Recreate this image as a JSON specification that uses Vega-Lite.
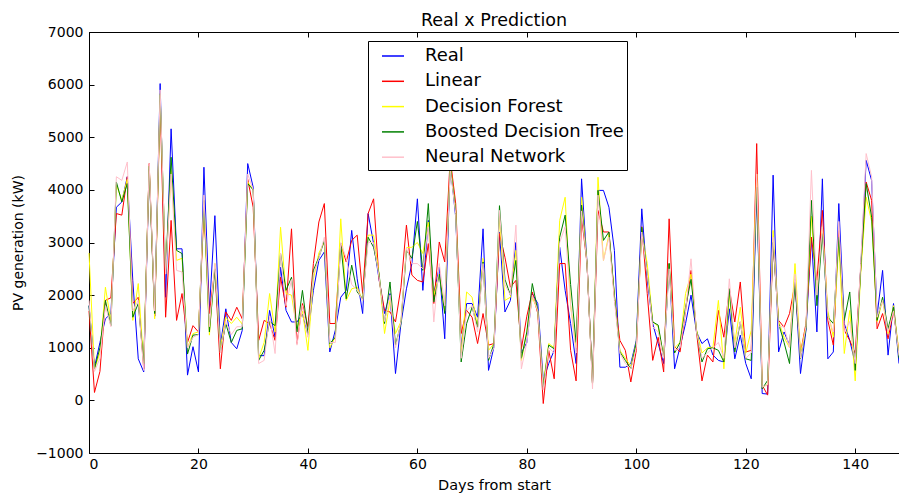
{
"$schema": "https://vega.github.io/schema/vega-lite/v6.json",
"width": 810, "height": 421,
"autosize": "none",
"padding": {"left": 89, "top": 32, "right": 0, "bottom": 45},
"title": {"text": "Real x Prediction", "fontSize": 17.5, "fontWeight": "normal", "font": "DejaVu Sans", "anchor": "middle", "offset": -4, "color": "black"},
"config": {
  "view": {"stroke": "black", "strokeWidth": 1},
  "font": "DejaVu Sans",
  "axis": {"grid": false, "domainColor": "black", "tickColor": "black", "tickSize": -5, "labelColor": "black", "titleColor": "black", "labelFont": "DejaVu Sans", "titleFont": "DejaVu Sans", "labelFontSize": 14, "titleFontSize": 14, "titleFontWeight": "normal", "labelPadding": 11}
},
"data": {"values": [
{"day":0,"real":1800,"linear":1700,"forest":2800,"boosted":1800,"neural":1900},
{"day":1,"real":630,"linear":150,"forest":600,"boosted":600,"neural":550},
{"day":2,"real":1100,"linear":550,"forest":900,"boosted":1000,"neural":800},
{"day":3,"real":1550,"linear":1900,"forest":2150,"boosted":1900,"neural":1800},
{"day":4,"real":1650,"linear":1950,"forest":1500,"boosted":1420,"neural":1400},
{"day":5,"real":3670,"linear":3550,"forest":4100,"boosted":4150,"neural":4250},
{"day":6,"real":3770,"linear":3520,"forest":3800,"boosted":3770,"neural":4180},
{"day":7,"real":4250,"linear":4250,"forest":4200,"boosted":4120,"neural":4530},
{"day":8,"real":2280,"linear":1840,"forest":1520,"boosted":1580,"neural":1700},
{"day":9,"real":790,"linear":1960,"forest":2220,"boosted":1840,"neural":1900},
{"day":10,"real":540,"linear":600,"forest":700,"boosted":700,"neural":570},
{"day":11,"real":4400,"linear":4500,"forest":4450,"boosted":4450,"neural":4500},
{"day":12,"real":1600,"linear":1600,"forest":1550,"boosted":1650,"neural":1700},
{"day":13,"real":6020,"linear":5700,"forest":5800,"boosted":5830,"neural":5900},
{"day":14,"real":1960,"linear":1580,"forest":2400,"boosted":2470,"neural":2400},
{"day":15,"real":5160,"linear":3420,"forest":4370,"boosted":4620,"neural":4300},
{"day":16,"real":2880,"linear":1520,"forest":2660,"boosted":2850,"neural":2470},
{"day":17,"real":2880,"linear":2030,"forest":2700,"boosted":2790,"neural":2440},
{"day":18,"real":480,"linear":1100,"forest":1000,"boosted":880,"neural":1000},
{"day":19,"real":1020,"linear":1420,"forest":1270,"boosted":1240,"neural":1200},
{"day":20,"real":540,"linear":1300,"forest":1300,"boosted":1250,"neural":1250},
{"day":21,"real":4430,"linear":3600,"forest":3700,"boosted":3800,"neural":3900},
{"day":22,"real":1710,"linear":1650,"forest":1240,"boosted":1300,"neural":1400},
{"day":23,"real":3510,"linear":2500,"forest":2600,"boosted":2500,"neural":2600},
{"day":24,"real":1050,"linear":600,"forest":1000,"boosted":920,"neural":900},
{"day":25,"real":1740,"linear":1680,"forest":1580,"boosted":1460,"neural":1500},
{"day":26,"real":1100,"linear":1520,"forest":1460,"boosted":1100,"neural":1250},
{"day":27,"real":980,"linear":1770,"forest":1580,"boosted":1330,"neural":1400},
{"day":28,"real":1330,"linear":1550,"forest":1450,"boosted":1360,"neural":1400},
{"day":29,"real":4500,"linear":4200,"forest":4150,"boosted":4120,"neural":4300},
{"day":30,"real":4050,"linear":3670,"forest":4000,"boosted":4000,"neural":4000},
{"day":31,"real":850,"linear":1140,"forest":800,"boosted":760,"neural":700},
{"day":32,"real":850,"linear":1520,"forest":1100,"boosted":950,"neural":760},
{"day":33,"real":1710,"linear":1460,"forest":2030,"boosted":1500,"neural":1600},
{"day":34,"real":1200,"linear":1140,"forest":1300,"boosted":1420,"neural":890},
{"day":35,"real":2530,"linear":2340,"forest":3290,"boosted":2790,"neural":2800},
{"day":36,"real":1710,"linear":1770,"forest":2030,"boosted":2090,"neural":1800},
{"day":37,"real":1490,"linear":3260,"forest":2000,"boosted":2340,"neural":2300},
{"day":38,"real":1490,"linear":1080,"forest":1350,"boosted":1300,"neural":1050},
{"day":39,"real":1640,"linear":1840,"forest":1700,"boosted":2090,"neural":1800},
{"day":40,"real":1250,"linear":1400,"forest":950,"boosted":1280,"neural":1200},
{"day":41,"real":2090,"linear":2600,"forest":2300,"boosted":2470,"neural":2400},
{"day":42,"real":2660,"linear":3390,"forest":2800,"boosted":2720,"neural":2700},
{"day":43,"real":2820,"linear":3740,"forest":3000,"boosted":3040,"neural":3100},
{"day":44,"real":920,"linear":1460,"forest":1000,"boosted":1080,"neural":1100},
{"day":45,"real":1330,"linear":1460,"forest":1200,"boosted":1200,"neural":1100},
{"day":46,"real":1960,"linear":2980,"forest":3450,"boosted":2980,"neural":3000},
{"day":47,"real":2090,"linear":2630,"forest":1900,"boosted":1930,"neural":2700},
{"day":48,"real":3230,"linear":3040,"forest":2120,"boosted":2570,"neural":2200},
{"day":49,"real":2310,"linear":3140,"forest":2150,"boosted":2060,"neural":2100},
{"day":50,"real":1650,"linear":2030,"forest":1900,"boosted":1930,"neural":1900},
{"day":51,"real":3550,"linear":3550,"forest":3140,"boosted":3100,"neural":3000},
{"day":52,"real":2980,"linear":3830,"forest":3140,"boosted":2910,"neural":3000},
{"day":53,"real":2300,"linear":2300,"forest":2400,"boosted":2400,"neural":2350},
{"day":54,"real":1650,"linear":1710,"forest":1270,"boosted":1460,"neural":1500},
{"day":55,"real":2030,"linear":1680,"forest":1900,"boosted":2250,"neural":2000},
{"day":56,"real":510,"linear":1490,"forest":1270,"boosted":1050,"neural":1000},
{"day":57,"real":1460,"linear":2150,"forest":1500,"boosted":1460,"neural":1500},
{"day":58,"real":2120,"linear":3330,"forest":2900,"boosted":2850,"neural":2900},
{"day":59,"real":2600,"linear":2380,"forest":2910,"boosted":2700,"neural":2600},
{"day":60,"real":3830,"linear":2280,"forest":3000,"boosted":3400,"neural":2600},
{"day":61,"real":2090,"linear":2250,"forest":2790,"boosted":2470,"neural":2500},
{"day":62,"real":3420,"linear":2980,"forest":3390,"boosted":3740,"neural":3300},
{"day":63,"real":2030,"linear":1840,"forest":2000,"boosted":1870,"neural":1490},
{"day":64,"real":2530,"linear":3010,"forest":2400,"boosted":2400,"neural":2600},
{"day":65,"real":1170,"linear":2630,"forest":1700,"boosted":1650,"neural":1800},
{"day":66,"real":4500,"linear":4600,"forest":4500,"boosted":4450,"neural":4400},
{"day":67,"real":3480,"linear":3740,"forest":3600,"boosted":3600,"neural":3550},
{"day":68,"real":1020,"linear":1270,"forest":900,"boosted":730,"neural":800},
{"day":69,"real":1840,"linear":1710,"forest":2060,"boosted":1460,"neural":1700},
{"day":70,"real":1840,"linear":1580,"forest":1960,"boosted":1770,"neural":1800},
{"day":71,"real":1580,"linear":1080,"forest":1400,"boosted":1390,"neural":1300},
{"day":72,"real":3260,"linear":1650,"forest":2700,"boosted":2630,"neural":2600},
{"day":73,"real":570,"linear":1050,"forest":950,"boosted":760,"neural":800},
{"day":74,"real":1020,"linear":1080,"forest":1080,"boosted":1080,"neural":1000},
{"day":75,"real":3200,"linear":3170,"forest":3500,"boosted":3700,"neural":3610},
{"day":76,"real":1680,"linear":2720,"forest":1900,"boosted":2300,"neural":2200},
{"day":77,"real":1900,"linear":2150,"forest":1960,"boosted":2000,"neural":2000},
{"day":78,"real":3000,"linear":2280,"forest":2850,"boosted":2660,"neural":3330},
{"day":79,"real":900,"linear":980,"forest":760,"boosted":800,"neural":600},
{"day":80,"real":1100,"linear":1600,"forest":1300,"boosted":1300,"neural":1100},
{"day":81,"real":2030,"linear":2060,"forest":1960,"boosted":2220,"neural":2000},
{"day":82,"real":1840,"linear":1650,"forest":1700,"boosted":1710,"neural":1700},
{"day":83,"real":380,"linear":-60,"forest":300,"boosted":250,"neural":200},
{"day":84,"real":700,"linear":950,"forest":1080,"boosted":1050,"neural":1000},
{"day":85,"real":950,"linear":410,"forest":1000,"boosted":980,"neural":900},
{"day":86,"real":2910,"linear":2600,"forest":3420,"boosted":3100,"neural":3000},
{"day":87,"real":2090,"linear":2600,"forest":3860,"boosted":3520,"neural":3300},
{"day":88,"real":1460,"linear":950,"forest":1800,"boosted":2200,"neural":1800},
{"day":89,"real":700,"linear":370,"forest":1000,"boosted":1100,"neural":900},
{"day":90,"real":4210,"linear":3480,"forest":3860,"boosted":3710,"neural":3600},
{"day":91,"real":2600,"linear":2600,"forest":2600,"boosted":2600,"neural":2600},
{"day":92,"real":320,"linear":320,"forest":300,"boosted":320,"neural":220},
{"day":93,"real":3990,"linear":3610,"forest":4240,"boosted":3990,"neural":3900},
{"day":94,"real":3990,"linear":3200,"forest":2660,"boosted":3040,"neural":2660},
{"day":95,"real":3670,"linear":3200,"forest":3150,"boosted":3200,"neural":3100},
{"day":96,"real":2850,"linear":1960,"forest":2000,"boosted":2000,"neural":1900},
{"day":97,"real":630,"linear":1140,"forest":950,"boosted":920,"neural":900},
{"day":98,"real":630,"linear":950,"forest":800,"boosted":760,"neural":700},
{"day":99,"real":700,"linear":350,"forest":650,"boosted":600,"neural":600},
{"day":100,"real":1140,"linear":950,"forest":1100,"boosted":1100,"neural":1000},
{"day":101,"real":3640,"linear":3300,"forest":3200,"boosted":3290,"neural":3200},
{"day":102,"real":2280,"linear":2030,"forest":2600,"boosted":2400,"neural":2400},
{"day":103,"real":1460,"linear":760,"forest":1500,"boosted":1490,"neural":1400},
{"day":104,"real":1080,"linear":1200,"forest":1400,"boosted":1430,"neural":1300},
{"day":105,"real":700,"linear":540,"forest":820,"boosted":820,"neural":800},
{"day":106,"real":2600,"linear":3450,"forest":2600,"boosted":2600,"neural":2500},
{"day":107,"real":600,"linear":1020,"forest":1000,"boosted":900,"neural":950},
{"day":108,"real":1020,"linear":920,"forest":1100,"boosted":1100,"neural":1000},
{"day":109,"real":1460,"linear":1700,"forest":2030,"boosted":1770,"neural":1700},
{"day":110,"real":2000,"linear":2470,"forest":2400,"boosted":2300,"neural":2690},
{"day":111,"real":1300,"linear":1300,"forest":1350,"boosted":1330,"neural":1300},
{"day":112,"real":1080,"linear":370,"forest":900,"boosted":730,"neural":800},
{"day":113,"real":1170,"linear":860,"forest":1000,"boosted":980,"neural":900},
{"day":114,"real":860,"linear":730,"forest":1010,"boosted":1000,"neural":1000},
{"day":115,"real":760,"linear":1710,"forest":1900,"boosted":950,"neural":1100},
{"day":116,"real":730,"linear":1200,"forest":600,"boosted":730,"neural":800},
{"day":117,"real":1740,"linear":2120,"forest":2000,"boosted":2120,"neural":2310},
{"day":118,"real":790,"linear":1490,"forest":1100,"boosted":920,"neural":1000},
{"day":119,"real":1240,"linear":2250,"forest":1770,"boosted":1490,"neural":1500},
{"day":120,"real":700,"linear":920,"forest":900,"boosted":790,"neural":800},
{"day":121,"real":410,"linear":950,"forest":1330,"boosted":760,"neural":900},
{"day":122,"real":4000,"linear":4880,"forest":4300,"boosted":4050,"neural":4300},
{"day":123,"real":130,"linear":290,"forest":250,"boosted":220,"neural":250},
{"day":124,"real":120,"linear":100,"forest":300,"boosted":380,"neural":300},
{"day":125,"real":4280,"linear":2980,"forest":3230,"boosted":3000,"neural":3100},
{"day":126,"real":920,"linear":1520,"forest":1500,"boosted":1460,"neural":1400},
{"day":127,"real":1300,"linear":1390,"forest":1200,"boosted":1100,"neural":1400},
{"day":128,"real":1050,"linear":1650,"forest":1000,"boosted":700,"neural":1000},
{"day":129,"real":2300,"linear":2220,"forest":2600,"boosted":2250,"neural":2400},
{"day":130,"real":510,"linear":900,"forest":890,"boosted":790,"neural":800},
{"day":131,"real":1330,"linear":1460,"forest":1400,"boosted":1350,"neural":1400},
{"day":132,"real":3100,"linear":3100,"forest":3500,"boosted":3800,"neural":4370},
{"day":133,"real":1300,"linear":2280,"forest":2000,"boosted":1800,"neural":2000},
{"day":134,"real":4210,"linear":3610,"forest":3300,"boosted":3170,"neural":3300},
{"day":135,"real":790,"linear":1520,"forest":1700,"boosted":1580,"neural":1600},
{"day":136,"real":920,"linear":1050,"forest":1200,"boosted":1460,"neural":1300},
{"day":137,"real":3740,"linear":3230,"forest":3000,"boosted":3100,"neural":3400},
{"day":138,"real":1460,"linear":1330,"forest":890,"boosted":1520,"neural":1300},
{"day":139,"real":1140,"linear":1140,"forest":1710,"boosted":2060,"neural":1500},
{"day":140,"real":700,"linear":890,"forest":370,"boosted":570,"neural":700},
{"day":141,"real":2500,"linear":2500,"forest":2400,"boosted":2500,"neural":2600},
{"day":142,"real":4560,"linear":4150,"forest":3860,"boosted":4120,"neural":4690},
{"day":143,"real":4180,"linear":3800,"forest":3400,"boosted":3480,"neural":4250},
{"day":144,"real":1620,"linear":1360,"forest":1500,"boosted":1520,"neural":1580},
{"day":145,"real":2470,"linear":1650,"forest":1900,"boosted":1960,"neural":1900},
{"day":146,"real":860,"linear":1170,"forest":1270,"boosted":1360,"neural":1300},
{"day":147,"real":1840,"linear":1700,"forest":1800,"boosted":1770,"neural":1700},
{"day":148,"real":700,"linear":900,"forest":900,"boosted":800,"neural":850}
]},
"resolve": {"axis": {"x": "independent"}},
"layer": [
  {"mark": {"type": "line", "strokeWidth": 1},
   "encoding": {
     "x": {"field": "day", "type": "quantitative", "scale": {"domain": [0, 148], "nice": false, "zero": false}, "axis": {"title": "Days from start", "values": [0,20,40,60,80,100,120,140], "labelPadding": 9, "titlePadding": 7, "titleFontSize": 14.5}},
     "y": {"field": "real", "type": "quantitative", "scale": {"domain": [-1000, 7000], "nice": false}, "axis": {"title": "PV generation (kW)", "format": "d", "values": [-1000,0,1000,2000,3000,4000,5000,6000,7000], "titlePadding": 10}},
     "color": {"datum": "Real", "type": "nominal",
       "scale": {"domain": ["Real","Linear","Decision Forest","Boosted Decision Tree","Neural Network"], "range": ["#0000ff","#ff0000","#ffff00","#008000","#ffc0cb"]},
       "legend": {"orient": "none", "legendX": 279, "legendY": 9, "title": null, "strokeColor": "black", "fillColor": "white", "padding": 3, "symbolOffset": 10, "labelFontSize": 18, "labelFont": "DejaVu Sans", "labelColor": "black", "symbolType": "stroke", "symbolSize": 484, "symbolStrokeWidth": 1.5, "rowPadding": 4.3, "labelOffset": 20, "labelLimit": 400}}
   }},
  {"mark": {"type": "line", "strokeWidth": 1},
   "encoding": {
     "x": {"field": "day", "type": "quantitative", "axis": {"orient": "top", "labels": false, "title": null, "domain": false, "values": [0,20,40,60,80,100,120,140]}},
     "y": {"field": "linear", "type": "quantitative", "axis": {"title": "PV generation (kW)", "format": "d", "values": [-1000,0,1000,2000,3000,4000,5000,6000,7000], "titlePadding": 10}},
     "color": {"datum": "Linear", "type": "nominal"}
   }},
  {"mark": {"type": "line", "strokeWidth": 1},
   "encoding": {
     "x": {"field": "day", "type": "quantitative", "axis": null},
     "y": {"field": "forest", "type": "quantitative", "axis": {"title": "PV generation (kW)", "format": "d", "values": [-1000,0,1000,2000,3000,4000,5000,6000,7000], "titlePadding": 10}},
     "color": {"datum": "Decision Forest", "type": "nominal"}
   }},
  {"mark": {"type": "line", "strokeWidth": 1},
   "encoding": {
     "x": {"field": "day", "type": "quantitative", "axis": null},
     "y": {"field": "boosted", "type": "quantitative", "axis": {"title": "PV generation (kW)", "format": "d", "values": [-1000,0,1000,2000,3000,4000,5000,6000,7000], "titlePadding": 10}},
     "color": {"datum": "Boosted Decision Tree", "type": "nominal"}
   }},
  {"mark": {"type": "line", "strokeWidth": 1},
   "encoding": {
     "x": {"field": "day", "type": "quantitative", "axis": null},
     "y": {"field": "neural", "type": "quantitative", "axis": {"title": "PV generation (kW)", "format": "d", "values": [-1000,0,1000,2000,3000,4000,5000,6000,7000], "titlePadding": 10}},
     "color": {"datum": "Neural Network", "type": "nominal"}
   }}
]
}
